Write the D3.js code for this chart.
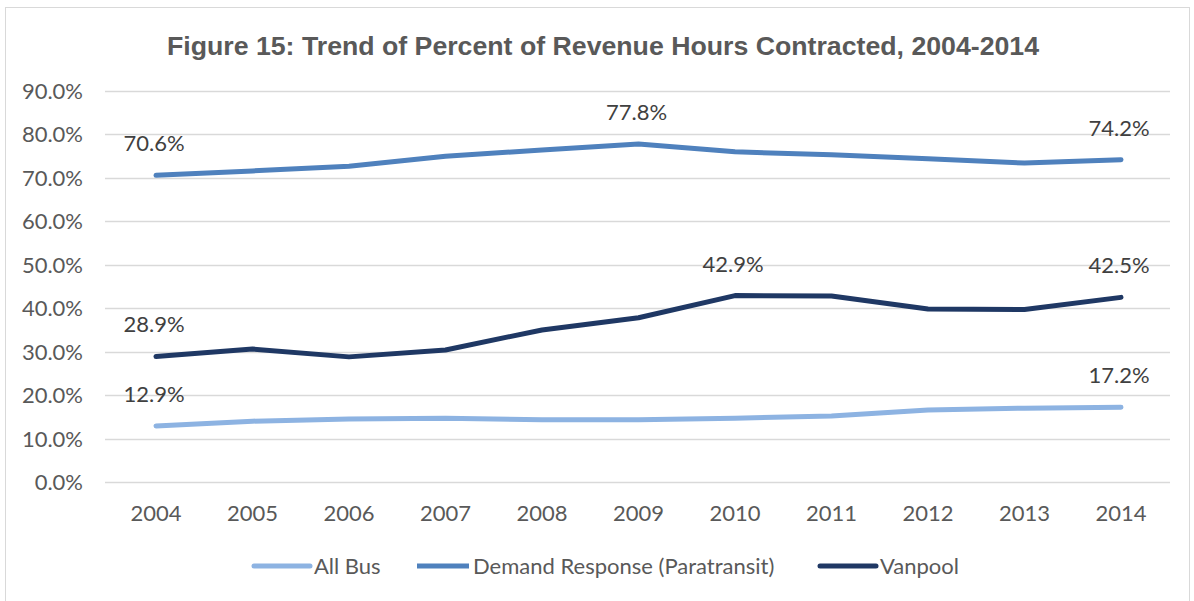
<!DOCTYPE html>
<html>
<head>
<meta charset="utf-8">
<script src="https://cdn.jsdelivr.net/npm/d3@7.9.0/dist/d3.min.js"></script>
<style>
  body { margin: 0; background: #fff; }
  svg { display: block; }
</style>
</head>
<body>
<svg id="chart" width="1194" height="601"></svg>
<script>
const years = ["2004", "2005", "2006", "2007", "2008", "2009", "2010", "2011", "2012", "2013", "2014"];
const allBus = [12.9, 14.0, 14.5, 14.7, 14.3, 14.3, 14.7, 15.2, 16.6, 17.0, 17.2];
const demandResponse = [70.6, 71.6, 72.7, 75.0, 76.4, 77.8, 76.0, 75.3, 74.4, 73.4, 74.2];
const vanpool = [28.9, 30.6, 28.8, 30.4, 35.0, 37.8, 42.9, 42.8, 39.8, 39.7, 42.5];
const yTicks = [0, 10, 20, 30, 40, 50, 60, 70, 80, 90];

// which points get a data label (by year index)
const series = [
  { name: "All Bus", values: allBus, color: "#8db3e2", labels: [0, 10] },
  { name: "Demand Response (Paratransit)", values: demandResponse, color: "#4f81bd", labels: [0, 5, 10] },
  { name: "Vanpool", values: vanpool, color: "#1f3864", labels: [0, 6, 10] }
];

const svg = d3.select("#chart");
const textColor = "#595959";
const font = "Lato, 'Open Sans', sans-serif";

// chart frame
svg.append("rect")
  .attr("x", 5.5).attr("y", 7.5)
  .attr("width", 1184).attr("height", 600)
  .attr("fill", "none").attr("stroke", "#d9d9d9");

svg.append("text")
  .attr("x", 603).attr("y", 55)
  .attr("text-anchor", "middle")
  .attr("font-family", "'Liberation Sans', Arial, sans-serif")
  .attr("font-weight", "bold")
  .attr("font-size", 26.7)
  .attr("fill", textColor)
  .text("Figure 15: Trend of Percent of Revenue Hours Contracted, 2004-2014");

const x = d3.scalePoint().domain(years).range([156, 1121]);
const y = d3.scaleLinear().domain([0, 90]).range([482, 91]);

// gridlines
svg.append("g")
  .selectAll("line")
  .data(yTicks)
  .join("line")
  .attr("x1", 105).attr("x2", 1170)
  .attr("y1", d => Math.round(y(d)) + 0.5)
  .attr("y2", d => Math.round(y(d)) + 0.5)
  .attr("stroke", "#d9d9d9")
  .attr("stroke-width", 1.5);

// y axis labels
svg.append("g")
  .selectAll("text")
  .data(yTicks)
  .join("text")
  .attr("x", 83)
  .attr("y", d => y(d) + 8)
  .attr("text-anchor", "end")
  .attr("font-family", font)
  .attr("font-size", 22)
  .attr("fill", textColor)
  .text(d => d.toFixed(1) + "%");

// x axis labels
svg.append("g")
  .selectAll("text")
  .data(years)
  .join("text")
  .attr("x", d => x(d))
  .attr("y", 521)
  .attr("text-anchor", "middle")
  .attr("font-family", font)
  .attr("font-size", 22)
  .attr("fill", textColor)
  .text(d => d);

const line = d3.line()
  .x((d, i) => x(years[i]))
  .y(d => y(d));

series.forEach(s => {
  svg.append("path")
    .datum(s.values)
    .attr("d", line)
    .attr("fill", "none")
    .attr("stroke", s.color)
    .attr("stroke-width", 5)
    .attr("stroke-linejoin", "round")
    .attr("stroke-linecap", "round");

  svg.append("g")
    .selectAll("text")
    .data(s.labels)
    .join("text")
    .attr("x", i => x(years[i]) - 2)
    .attr("y", i => y(s.values[i]) - 24)
    .attr("text-anchor", "middle")
    .attr("font-family", font)
    .attr("font-size", 22)
    .attr("fill", "#404040")
    .text(i => s.values[i].toFixed(1) + "%");
});

// legend
const legendItems = [
  { s: series[0], x: 254, len: 56 },
  { s: series[1], x: 417, len: 52 },
  { s: series[2], x: 820, len: 56 }
];
const lg = svg.append("g");
legendItems.forEach(d => {
  lg.append("line")
    .attr("x1", d.x).attr("x2", d.x + d.len)
    .attr("y1", 566).attr("y2", 566)
    .attr("stroke", d.s.color)
    .attr("stroke-width", 5)
    .attr("stroke-linecap", d.s === series[1] ? "butt" : "round");
  lg.append("text")
    .attr("x", d.x + d.len + 4)
    .attr("y", 574)
    .attr("font-family", font)
    .attr("font-size", 22)
    .attr("fill", textColor)
    .text(d.s.name);
});
</script>
</body>
</html>
